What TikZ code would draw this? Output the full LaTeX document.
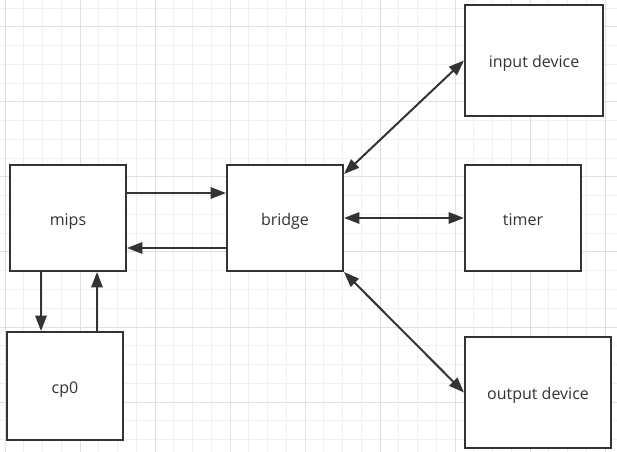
\documentclass[tikz,border=0pt]{standalone}
\usepackage{fontspec}
\setmainfont{Open Sans}
\usetikzlibrary{arrows.meta}

\definecolor{ink}{HTML}{333333}
\definecolor{gridminor}{HTML}{F0F0F0}
\definecolor{gridmajor}{HTML}{E0E0E0}

\begin{document}
\begin{tikzpicture} [x=0.75pt, y=-0.75pt,
 every node/.style = {shape=rectangle, draw=ink, line width=1.5pt, text=ink,
 font=\fontsize{12}{14}\selectfont, text height=11pt, text depth=0pt, align=center},
 unit/.style = {minimum width=87pt, minimum height=79.5pt},
 link/.style = {draw=ink, line width=1.5pt, -{Triangle[length=11.5pt, width=8.5pt]}},
 duplex/.style = {link, {Triangle[length=11.5pt, width=8.5pt]}-{Triangle[length=11.5pt, width=8.5pt]}}]
 \useasboundingbox (0,0) rectangle (617,452);
 \fill [white] (0,0) rectangle (617,452);

 % background grid
 \foreach \gx in {0,...,32}
 \draw [gridminor, line width=0.75pt] (5+18.75*\gx,0) -- (5+18.75*\gx,452);
 \foreach \gy in {0,...,23}
 \draw [gridminor, line width=0.75pt] (0,8.25+18.75*\gy) -- (617,8.25+18.75*\gy);
 \foreach \gx in {5,80,...,605}
 \draw [gridmajor, line width=0.75pt] (\gx,0) -- (\gx,452);
 \foreach \gy in {27,102,...,402}
 \draw [gridmajor, line width=0.75pt] (0,\gy) -- (617,\gy);

 \node (mips) [unit, fill=white] at (68,218) {mips};
 \node (cp0) [unit, fill=white, minimum height=81pt] at (65,386) {cp0};
 \node (bridge) [unit, fill=white] at (285,218) {bridge};
 \node (timer) [unit, fill=white] at (523,218) {timer};
 \node (input) [fill=white, minimum width=103.5pt, minimum height=83.25pt] at (534,60.5) {input device};
 \node (output) [fill=white, minimum width=109.5pt, minimum height=83.25pt] at (538,392.5) {output device};

 \draw [link] ([yshift=18.75pt]mips.east) -- ([yshift=18.75pt]mips.east -| bridge.west);
 \draw [link] ([yshift=-22.5pt]bridge.west) -- ([yshift=-22.5pt]bridge.west -| mips.east);
 \draw [link] ([xshift=-20.25pt]mips.south) -- ([xshift=-20.25pt]mips.south |- cp0.north);
 \draw [link] ([xshift=24pt]cp0.north) -- ([xshift=24pt]cp0.north |- mips.south);
 \draw [duplex] (bridge.east) -- (timer.west);
 \draw [duplex] ([yshift=-7.5pt]bridge.north east) -- (input.west);
 \draw [duplex] (bridge.south east) -- (output.west);
\end{tikzpicture}
\end{document}
